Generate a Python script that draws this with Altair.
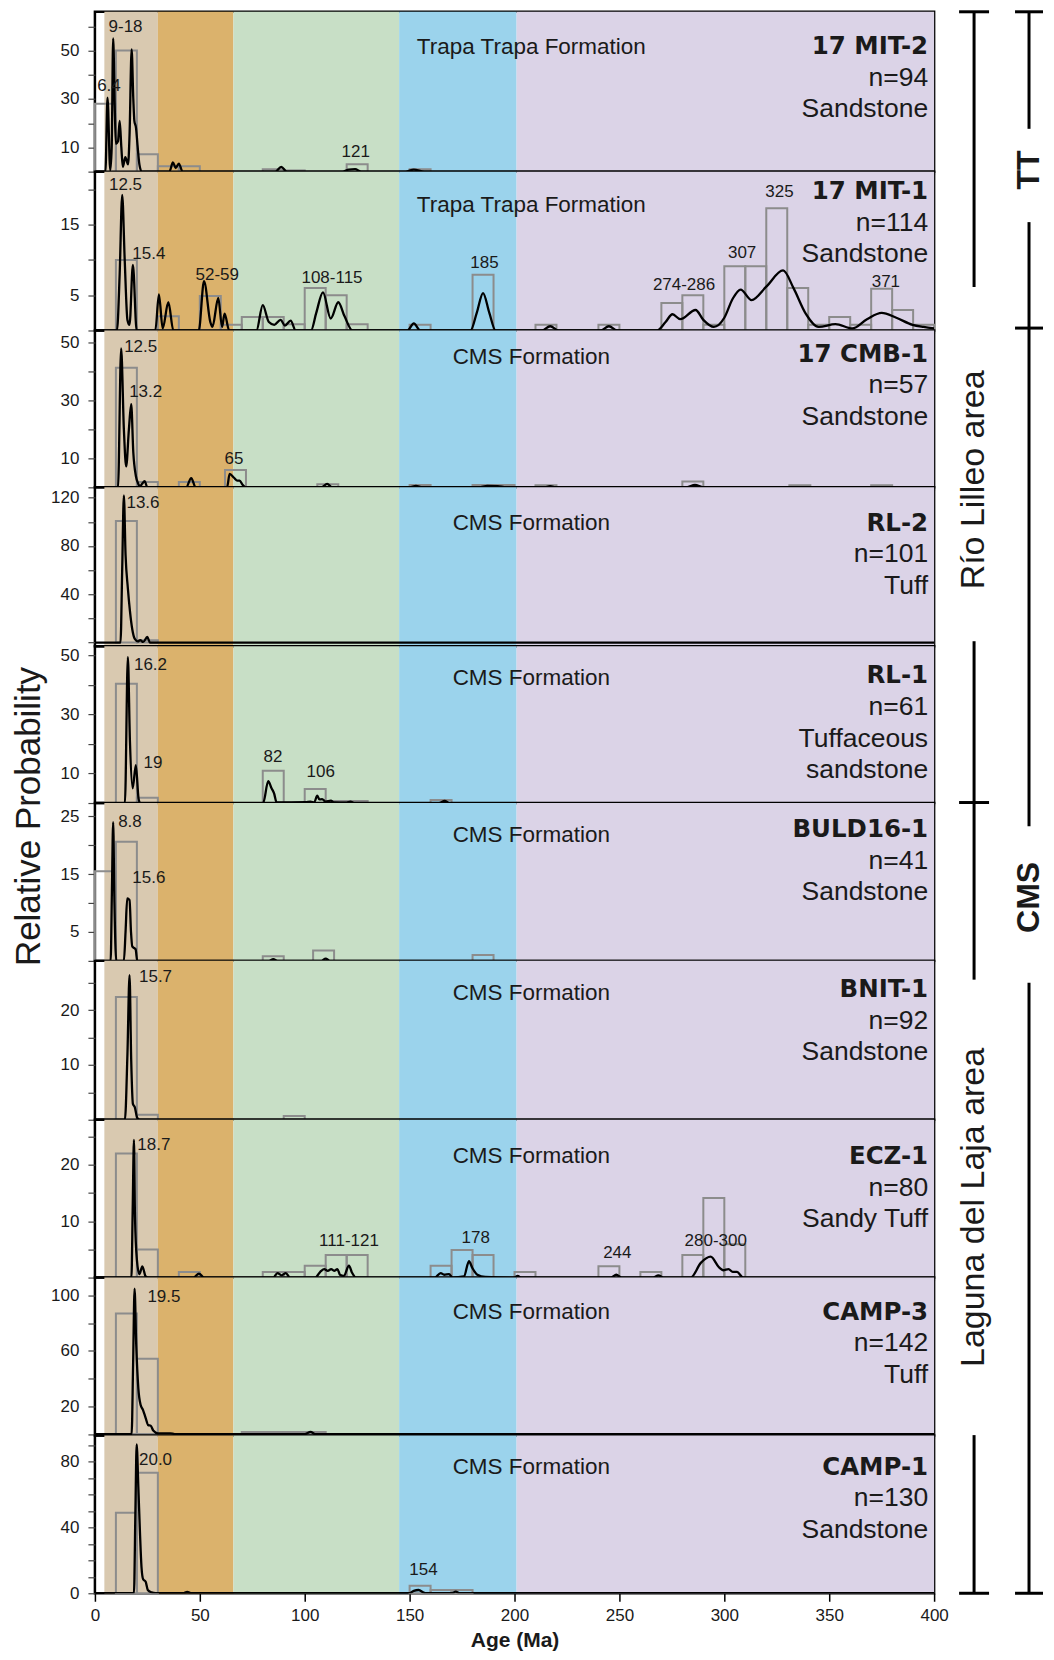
import altair as alt
import pandas as pd

# ---------------- background age bands (Ma) ----------------
BAND_NAME = ["Neogene", "Paleogene", "Cretaceous", "Jurassic", "Triassic-Paleozoic"]
BAND_START = [4.5, 30, 66, 145, 201]
BAND_END = [30, 66, 145, 201, 400]
BAND_COLOR = ["#d9c9b0", "#dbb26c", "#c8dfc6", "#9bd3ec", "#dbd3e7"]

# ---------------- samples ----------------
SAMPLES = ["17 MIT-2", "17 MIT-1", "17 CMB-1", "RL-2", "RL-1",
           "BULD16-1", "BNIT-1", "ECZ-1", "CAMP-3", "CAMP-1"]
N_GRAINS = [94, 114, 57, 101, 61, 41, 92, 80, 142, 130]
LITHOLOGY = ["Sandstone", "Sandstone", "Sandstone", "Tuff", "Tuffaceous\nsandstone",
             "Sandstone", "Sandstone", "Sandy Tuff", "Tuff", "Sandstone"]
FORMATION = ["Trapa Trapa Formation"] * 2 + ["CMS Formation"] * 8
FORMATION_AGE = 208

# y axes (relative probability)
Y_DOMAINS = [(0, 66), (0, 22.5), (0, 54), (-3, 128.6), (0, 53),
             (0, 27.3), (0, 29), (0, 28), (-1, 113), (0, 96)]
Y_TICKS = [list(range(0, 61, 10)), list(range(0, 21, 5)), list(range(0, 51, 10)),
           list(range(0, 121, 20)), list(range(0, 51, 10)), list(range(0, 26, 5)),
           list(range(0, 26, 5)), list(range(0, 26, 5)), list(range(0, 101, 20)),
           list(range(0, 91, 10))]
Y_LABELS = [[10, 30, 50], [5, 15], [10, 30, 50], [40, 80, 120], [10, 30, 50],
            [5, 15, 25], [10, 20], [10, 20], [20, 60, 100], [0, 40, 80]]

# ---------------- histograms: (bin start Ma, height), 10 Ma bins ----------------
HIST_MIT2 = [(0, 28), (10, 50), (20, 7.2), (30, 2.2), (40, 2.2), (80, 1), (90, 0.5),
             (120, 3.1), (150, 1)]
HIST_MIT1 = [(10, 10), (30, 2), (50, 4.9), (60, 0.8), (70, 1.9), (80, 1.9), (90, 0.9),
             (100, 6), (110, 5), (120, 0.9), (150, 0.8), (180, 7.9), (210, 0.8), (240, 0.8),
             (270, 3.9), (280, 5), (290, 0.8), (300, 9.1), (310, 9.1), (320, 17.3), (330, 6),
             (340, 0.8), (350, 1.9), (360, 0.8), (370, 5.9), (380, 2.9), (390, 0.8)]
HIST_CMB1 = [(10, 41.2), (20, 1.8), (40, 1.8), (62, 6), (106, 1.1), (150, 0.8), (180, 0.8),
             (190, 0.8), (210, 0.7), (280, 2), (331, 0.7), (370, 0.7)]
HIST_RL2 = [(10, 100.7), (20, 1.9)]
HIST_RL1 = [(10, 40.3), (20, 1.8), (80, 10.9), (100, 4.7), (110, 0.7), (120, 0.7), (160, 1.0)]
HIST_BULD = [(0, 15.5), (10, 20.6), (80, 0.8), (104, 1.8), (180, 1)]
HIST_BNIT = [(10, 22.4), (20, 0.9), (90, 0.7)]
HIST_ECZ = [(10, 22), (20, 5), (40, 1), (80, 1), (90, 1), (100, 2.1), (110, 4), (120, 4),
            (160, 2.1), (170, 4.9), (180, 4), (200, 1), (240, 2), (260, 1), (280, 4),
            (290, 14.1), (300, 5.9)]
HIST_CAMP3 = [(10, 87), (20, 54.3), (70, 1.5), (80, 1.5), (90, 1.5), (100, 1.5)]
HIST_CAMP1 = [(10, 49), (20, 73.3), (150, 4.6), (160, 2), (170, 2)]

# ---------------- probability density curves: (age Ma, probability) ----------------
CURVE_MIT2 = [(0, 0), (5, 0), (6.0, 30.5), (7.3, 0.5), (8.0, 10), (8.7, 55), (9.5, 25), (10, 11.5),
              (11, 12.5), (11.8, 21), (12.6, 10), (13.3, 2), (14.5, 6), (15.8, 3), (16.5, 15),
              (17.5, 50.5), (18.3, 30), (18.8, 21), (19.6, 18), (20.3, 11), (21.2, 3), (22.3, 0),
              (35.5, 0), (37.2, 3.8), (38.5, 1.5), (40, 3.3), (41.8, 0), (86, 0), (88.8, 2),
              (91.5, 0), (118, 0), (121, 0.8), (124, 1), (127, 0), (148, 0), (152, 0.8),
              (157, 0), (400, 0)]
CURVE_MIT1 = [(0, 0), (10.5, 0), (11.8, 8), (13, 19.2), (14.2, 10), (15.5, 1.5), (16.5, 0.8),
              (18.1, 9.3), (19.9, 0), (28.8, 0), (30.5, 5.1), (32.3, 0.3), (35, 4.0), (37.4, 0),
              (49.5, 0), (52, 7.0), (55, 1.2), (56, 0.5), (58.8, 4.6), (60.6, 0.5), (61.8, 2.4),
              (64, 0), (77, 0), (80, 3.6), (82.9, 1.2), (85.5, 0.8), (88.5, 1.5), (90.6, 0.7),
              (93.3, 1.4), (95.7, 0), (103, 0), (105.5, 2.5), (108.7, 5.4), (112.4, 1.7),
              (116, 4.0), (119, 2), (122.8, 0), (149, 0), (152, 1.0), (155, 0), (179, 0),
              (182, 2.5), (185, 5.3), (188, 2.5), (191, 0), (213, 0), (217, 0.6), (221, 0),
              (241, 0), (245, 0.6), (249, 0), (268, 0), (272, 1.2), (275.3, 2.3), (279, 1.6),
              (286.3, 2.9), (290, 1.5), (295, 0.5), (300, 1.8), (304, 4.5), (307.8, 5.8),
              (313, 4.3), (320, 6.2), (328, 8.5), (333, 6), (338.8, 2.4), (345, 0.5),
              (353, 0.9), (361, 0.3), (368, 1.6), (375, 2.5), (382, 1.8), (389.7, 0.8),
              (395, 0.5), (400, 0.3)]
CURVE_CMB1 = [(0, 0), (11, 0), (12.5, 47.8), (13.8, 20), (14.9, 7.2), (16.2, 20), (17.3, 28.6),
              (18.3, 12), (19.5, 4), (20.5, 1.5), (21.5, 0.3), (22.5, 1.2), (23.7, 2.1), (25, 0),
              (43.5, 0), (45.9, 3.2), (48, 0), (63, 0), (64.2, 4.6), (66.3, 3.3), (67.9, 2.3),
              (69, 2.3), (70.3, 1.0), (72, 0), (108, 0), (110.7, 1.2), (113, 0), (150, 0),
              (153, 0.5), (156, 0), (183, 0), (187, 0.5), (192, 0.4), (196, 0), (214, 0),
              (217, 0.4), (220, 0), (282, 0), (286, 0.8), (290, 0), (400, 0)]
CURVE_RL2 = [(0, 0), (12.2, 0), (13.0, 60), (13.8, 122), (14.6, 73), (15.7, 45), (16.7, 26),
             (17.8, 11), (19, 3), (20.5, 1), (21.6, 2), (23, 0.5), (25, 4.6), (26.2, 0), (400, 0)]
CURVE_RL1 = [(0, 0), (14.3, 0), (15.7, 49.3), (16.7, 20.7), (18, 5), (19.5, 12.8), (20.8, 1.5),
             (21.5, 0), (80.2, 0), (82.6, 7.4), (84.2, 5), (85.4, 3.3), (86.6, 0.2), (100.4, 0.3),
             (102.8, 0.5), (104.5, 0.2), (106, 2.5), (107, 1.2), (108.3, 1.3), (110, 0.5),
             (112.5, 0.8), (114, 0.2), (120, 0.1), (121.8, 0.5), (123.5, 0), (164, 0),
             (166.7, 0.7), (169, 0), (400, 0)]
CURVE_BULD = [(0, 0), (7.5, 0), (8.1, 12), (8.7, 24), (9.3, 10), (10.2, 0), (13.8, 0), (14.6, 5),
              (15.4, 10.8), (16.5, 10.5), (17.2, 5), (17.8, 2.5), (18.8, 2.2), (19.4, 2),
              (20.2, 0), (83, 0), (85, 0.3), (87, 0), (108, 0), (110, 0.4), (112, 0), (400, 0)]
CURVE_BNIT = [(0, 0), (14.3, 0), (15.5, 12), (16.5, 26.4), (17.3, 10.8), (18.1, 2.9), (19, 2.3),
              (20.2, 0.3), (21.5, 0), (400, 0)]
CURVE_ECZ = [(0, 0), (17.4, 0), (18.0, 12), (18.6, 24.4), (19.1, 10.8), (20, 3.2), (21.2, 0.6),
             (22.6, 2.0), (24.2, 0.2), (25.5, 0), (47, 0), (49.6, 0.7), (52, 0), (85, 0),
             (87, 0.8), (89, 0.4), (91, 0.8), (93, 0), (105, 0), (107.6, 1.1), (109.3, 1.5),
             (111, 1.2), (112.6, 1.5), (114, 1.2), (115.6, 1.5), (116.8, 0.5), (118.6, 0.3),
             (121.1, 2.1), (122.5, 0.9), (124.4, 0), (162, 0), (164.8, 0.8), (166.5, 0.5),
             (168.8, 0.6), (170.5, 0), (175.9, 0.2), (178.3, 2.9), (179.9, 1.7), (182.3, 0.5),
             (186, 0.1), (200, 0), (201.5, 0.3), (203, 0), (246, 0), (248.5, 0.5), (251, 0),
             (266, 0), (268.6, 0.4), (271, 0), (284, 0), (288.8, 2.6), (293.5, 3.7),
             (297.5, 1.8), (299.5, 1.3), (302, 1.5), (304, 1.0), (306, 1.0), (309, 0), (400, 0)]
CURVE_CAMP3 = [(0, 0), (17.5, 0), (18.2, 50), (18.9, 105), (19.7, 64), (20.7, 33), (21.8, 21),
               (22.9, 17.5), (24.2, 11.5), (25.4, 6.4), (26.6, 6), (27.8, 2.5), (30, 0.5),
               (36, 0.5), (38, 0), (100, 0), (102.8, 1.5), (105, 0), (400, 0)]
CURVE_CAMP1 = [(0, 0), (18.6, 0), (19.3, 50), (19.9, 90.5), (20.7, 64.6), (21.5, 36), (22.2, 16),
               (23, 8.5), (24.2, 7), (25.2, 2), (27, 0.5), (29, 0), (42, 0), (44, 0.8), (46, 0),
               (150, 0), (152, 1.5), (154.3, 2.0), (156.5, 0.5), (158, 0), (170, 0), (172, 1),
               (174, 0), (400, 0)]

# ---------------- peak labels: (age Ma, probability, text) ----------------
PEAKS_MIT2 = [(14.6, 59.8, "9-18"), (6.7, 35.5, "6.4"), (124.3, 7.9, "121")]
PEAKS_MIT1 = [(14.6, 20.6, "12.5"), (25.7, 10.9, "15.4"), (58.3, 7.9, "52-59"),
              (113, 7.4, "108-115"), (185.7, 9.6, "185"), (280.8, 6.5, "274-286"),
              (308.5, 11, "307"), (326.3, 19.6, "325"), (377, 6.8, "371")]
PEAKS_CMB1 = [(21.8, 48.3, "12.5"), (24.2, 32.9, "13.2"), (66.3, 9.8, "65")]
PEAKS_RL2 = [(22.9, 115.3, "13.6")]
PEAKS_RL1 = [(26.5, 46.5, "16.2"), (27.7, 13.6, "19"), (84.9, 15.6, "82"), (107.6, 10.6, "106")]
PEAKS_BULD = [(16.7, 24.1, "8.8"), (25.7, 14.3, "15.6")]
PEAKS_BNIT = [(28.9, 26, "15.7")]
PEAKS_ECZ = [(28.1, 23.5, "18.7"), (121.1, 6.4, "111-121"), (181.5, 7.1, "178"),
             (249, 4.4, "244"), (295.9, 6.4, "280-300")]
PEAKS_CAMP3 = [(32.9, 99.3, "19.5")]
PEAKS_CAMP1 = [(28.9, 80.8, "20.0"), (156.6, 14.1, "154")]

HISTS = [HIST_MIT2, HIST_MIT1, HIST_CMB1, HIST_RL2, HIST_RL1, HIST_BULD, HIST_BNIT,
         HIST_ECZ, HIST_CAMP3, HIST_CAMP1]
CURVES = [CURVE_MIT2, CURVE_MIT1, CURVE_CMB1, CURVE_RL2, CURVE_RL1, CURVE_BULD, CURVE_BNIT,
          CURVE_ECZ, CURVE_CAMP3, CURVE_CAMP1]
PEAKS = [PEAKS_MIT2, PEAKS_MIT1, PEAKS_CMB1, PEAKS_RL2, PEAKS_RL1, PEAKS_BULD, PEAKS_BNIT,
         PEAKS_ECZ, PEAKS_CAMP3, PEAKS_CAMP1]
BIN_WIDTH = 10

# ---------------- right-hand brackets (in panel units, 0 = top, 10 = bottom) ----------------
BRACKET_LABEL = ["Río Lilleo area", "Laguna del Laja area", "TT", "CMS"]
BRACKET_COLUMN = ["inner", "inner", "outer", "outer"]
BRACKET_START = [0, 5, 0, 2]
BRACKET_END = [5, 10, 2, 10]
BRACKET_LABEL_POS = [2.96, 7.56, 1.0, 5.6]
BRACKET_GAP_TOP = [1.74, 6.12, 0.74, 5.15]
BRACKET_GAP_BOTTOM = [3.98, 9.0, 1.33, 6.14]

# ---------------- layout / style ----------------
PANEL_W = 840
PANEL_H = [160, 159, 157, 159, 157, 158, 159, 158, 158, 158]
NAME_OFF = [33, 18, 22, 34, 28, 25, 27, 35, 33, 30]
FORM_OFF = [34, 32, 25.5, 34.6, 31, 31, 31.5, 35.5, 33, 30.6]
LINE_H = 31.5
TXT = "#1a1a1a"
FONT = "Liberation Sans"


def panel(i):
    lo, hi = Y_DOMAINS[i]
    xs = alt.Scale(domain=[0, 400], nice=False, zero=False)
    ys = alt.Scale(domain=[lo, hi], nice=False, zero=False)
    if i == len(SAMPLES) - 1:
        xa = alt.Axis(values=list(range(0, 401, 50)), tickSize=8, tickWidth=1.5,
                      tickColor="black", labelFontSize=17, labelPadding=6, labelColor=TXT,
                      labelFlush=False, domain=False, grid=False, title="Age (Ma)",
                      titleFontSize=21, titleFontWeight="bold", titlePadding=6,
                      titleColor=TXT)
    else:
        xa = alt.Axis(values=list(range(0, 401, 10)), labels=False, tickSize=3,
                      tickColor="#555555", domain=False, grid=False, title=None)
    labels = Y_LABELS[i]
    yargs = dict(values=Y_TICKS[i], format="d",
                 labelExpr=f"indexof({labels}, datum.value) >= 0 ? datum.label : ''",
                 tickSize=7, tickColor="#444444", tickWidth=1.2, labelFontSize=17,
                 labelPadding=9, labelColor=TXT, labelFlush=False, domain=False, grid=False)
    if i == 4:
        ya = alt.Axis(title="Relative Probability", titleFontSize=35,
                      titleFontWeight="normal", titleColor=TXT, titleX=-83, titleY=170,
                      titleBaseline="top", titleAlign="center", titleAngle=270, **yargs)
    else:
        ya = alt.Axis(title=None, **yargs)

    def X(f):
        return alt.X(f, type="quantitative", scale=xs, axis=xa)

    def Y(f):
        return alt.Y(f, type="quantitative", scale=ys, axis=ya)

    bands_df = pd.DataFrame({"band": BAND_NAME, "s": BAND_START, "e": BAND_END})
    bands = alt.Chart(bands_df).mark_rect().encode(
        x=X("s"), x2="e",
        color=alt.Color("band:N", scale=alt.Scale(domain=BAND_NAME, range=BAND_COLOR),
                        legend=None))

    hist_df = pd.DataFrame(HISTS[i], columns=["s", "h"])
    hist_df["e"] = hist_df["s"] + BIN_WIDTH
    hist_df["z"] = 0
    hist = alt.Chart(hist_df).mark_rect(fillOpacity=0, stroke="#8c8c8c", strokeWidth=2).encode(
        x=X("s"), x2="e", y=Y("h"), y2="z")

    curve_df = pd.DataFrame(CURVES[i], columns=["age", "p"])
    curve = alt.Chart(curve_df).mark_line(color="black", strokeWidth=2.3,
                                          interpolate="monotone", clip=True).encode(
        x=X("age"), y=Y("p"))

    peak_df = pd.DataFrame(PEAKS[i], columns=["age", "p", "t"])
    peaks = alt.Chart(peak_df).mark_text(fontSize=17, color=TXT, baseline="middle",
                                         align="center").encode(
        x=X("age"), y=Y("p"), text="t:N")

    form_df = pd.DataFrame({"age": [FORMATION_AGE], "t": [FORMATION[i]]})
    form = alt.Chart(form_df).mark_text(fontSize=22.5, color=TXT, baseline="alphabetic",
                                        align="center").encode(
        x=X("age"), y=alt.value(FORM_OFF[i] + 8), text="t:N")

    name_df = pd.DataFrame({"t": [SAMPLES[i]]})
    name = alt.Chart(name_df).mark_text(fontSize=24.5, fontWeight="bold", color=TXT,
                                        font="DejaVu Sans", align="right",
                                        baseline="alphabetic").encode(
        x=alt.value(PANEL_W - 6), y=alt.value(NAME_OFF[i] + 9.3), text="t:N")

    det_df = pd.DataFrame({"t": [f"n={N_GRAINS[i]}\n{LITHOLOGY[i]}"]})
    det = alt.Chart(det_df).mark_text(fontSize=26.5, color=TXT, align="right",
                                      baseline="alphabetic", lineBreak="\n",
                                      lineHeight=LINE_H).encode(
        x=alt.value(PANEL_W - 6), y=alt.value(NAME_OFF[i] + LINE_H + 9.5), text="t:N")

    return alt.layer(bands, hist, curve, peaks, form, name, det).properties(
        width=PANEL_W, height=PANEL_H[i])


panels = alt.vconcat(*[panel(i) for i in range(len(SAMPLES))], spacing=0, bounds="flush")

# ---------------- brackets ----------------
seg_rows, cap_rows, lab_rows = [], [], []
for k in range(len(BRACKET_LABEL)):
    c = BRACKET_COLUMN[k]
    seg_rows.append({"col": c, "y1": BRACKET_START[k], "y2": BRACKET_GAP_TOP[k]})
    seg_rows.append({"col": c, "y1": BRACKET_GAP_BOTTOM[k], "y2": BRACKET_END[k]})
    cap_rows.append({"col": c, "y": BRACKET_START[k]})
    cap_rows.append({"col": c, "y": BRACKET_END[k]})
    lab_rows.append({"col": c, "y": BRACKET_LABEL_POS[k], "t": BRACKET_LABEL[k]})
seg_df = pd.DataFrame(seg_rows)
cap_df = pd.DataFrame(cap_rows).drop_duplicates()
lab_df = pd.DataFrame(lab_rows)

TOTAL_H = sum(PANEL_H)
BRACKET_W = 96
bys = alt.Scale(domain=[0, 10], reverse=True, nice=False, zero=False)
COL_X = {"inner": 24, "outer": 79}
CAP_HALF = {"inner": 15, "outer": 14}
COL_FONT = {"inner": dict(fontSize=34, fontWeight="normal"),
            "outer": dict(fontSize=32, fontWeight="bold")}
blayers = []
for c in ["inner", "outer"]:
    cx = COL_X[c]
    blayers.append(alt.Chart(seg_df).transform_filter(alt.datum.col == c).mark_rule(
        color="black", strokeWidth=3).encode(
        x=alt.value(cx), y=alt.Y("y1:Q", scale=bys, axis=None), y2="y2:Q"))
    blayers.append(alt.Chart(cap_df).transform_filter(alt.datum.col == c).mark_rule(
        color="black", strokeWidth=3).encode(
        x=alt.value(cx - CAP_HALF[c]), x2=alt.value(cx + CAP_HALF[c]),
        y=alt.Y("y:Q", scale=bys, axis=None)))
    blayers.append(alt.Chart(lab_df).transform_filter(alt.datum.col == c).mark_text(
        angle=270, align="center", baseline="middle", color=TXT, clip=True,
        **COL_FONT[c]).encode(
        x=alt.value(cx), y=alt.Y("y:Q", scale=bys, axis=None), text="t:N"))
brackets = alt.layer(*blayers).properties(
    width=BRACKET_W, height=TOTAL_H,
    view=alt.ViewBackground(stroke="transparent", strokeWidth=0))

chart = alt.hconcat(panels, brackets, spacing=0).properties(
    padding={"left": 2, "top": 1, "right": 0, "bottom": 0}
).configure(font=FONT).configure_view(stroke="black", strokeWidth=2.5)

chart.save("out.html", embed_options={"renderer": "svg", "actions": False})
